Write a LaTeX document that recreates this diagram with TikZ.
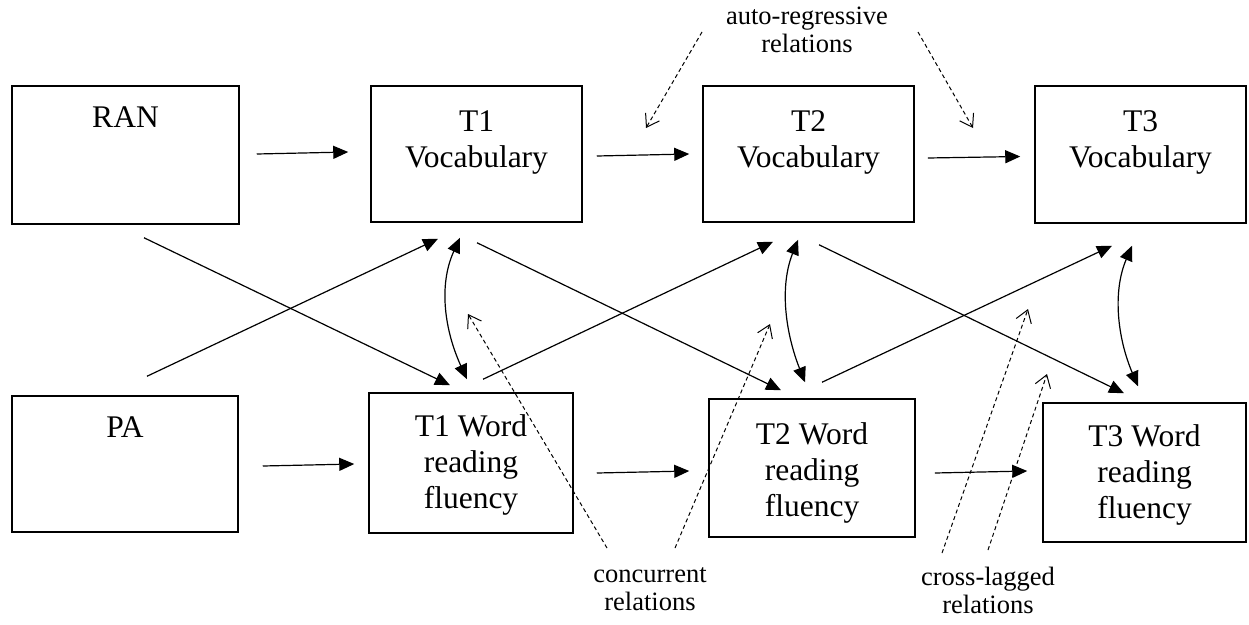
\documentclass[tikz,border=0pt]{standalone}
\usepackage{fontspec}
\setmainfont{Liberation Serif}
\usetikzlibrary{arrows.meta}
\begin{document}
\begin{tikzpicture}[x=1pt,y=-1pt,
  box/.style={draw, line width=1.5pt, inner sep=0pt},
  boxtext/.style={font=\fontsize{31.5}{36}\selectfont, align=center, inner sep=0pt},
  note/.style={font=\fontsize{26.5}{28}\selectfont, align=center, inner sep=0pt},
  conn/.style={line width=1.2pt, -{Triangle[length=15pt,width=13pt]}},
  dbl/.style={line width=1.2pt, {Triangle[length=15pt,width=13pt]}-{Triangle[length=15pt,width=13pt]}},
  dashconn/.style={line width=1pt, dash pattern=on 4pt off 3pt, -{Straight Barb[length=12pt,width=16pt,line width=1pt]}}
]
\useasboundingbox (0,0) rectangle (1249,624);

% boxes
\node[box, minimum width=227pt, minimum height=138pt, label={[boxtext,yshift=38pt]center:RAN}] (ran) at (125.5,155) {};
\node[box, minimum width=211pt, minimum height=136pt, label={[boxtext,yshift=12pt]center:{T1\\Vocabulary}}] (t1v) at (476.5,154) {};
\node[box, minimum width=211pt, minimum height=136pt, label={[boxtext,yshift=12pt]center:{T2\\Vocabulary}}] (t2v) at (808.5,154) {};
\node[box, minimum width=211pt, minimum height=137pt, label={[boxtext,yshift=12pt]center:{T3\\Vocabulary}}] (t3v) at (1140.5,154.5) {};
\node[box, minimum width=226pt, minimum height=136pt, label={[boxtext,yshift=37pt]center:PA}] (pa) at (125,464) {};
\node[box, minimum width=204pt, minimum height=140pt, label={[boxtext,yshift=-2pt]center:{T1 Word\\reading\\fluency}}] (t1w) at (471,463) {};
\node[box, minimum width=206pt, minimum height=138pt, label={[boxtext,yshift=-5pt]center:{T2 Word\\reading\\fluency}}] (t2w) at (812,468) {};
\node[box, minimum width=203pt, minimum height=139pt, label={[boxtext,yshift=-2.5pt]center:{T3 Word\\reading\\fluency}}] (t3w) at (1144.5,472.5) {};

% labels
\node[note] (autolab) at (807,30) {auto-regressive\\relations};
\node[note] (conclab) at (650,589) {concurrent\\relations};
\node[note] (crosslab) at (988,590) {cross-lagged\\relations};

% free ends of dashed arrows
\coordinate (arL) at (646,128);
\coordinate (arR) at (973,128);
\coordinate (cL) at (468,314);
\coordinate (cR) at (770,324);
\coordinate (xL) at (1028,309);
\coordinate (xR) at (1047,374);

% horizontal arrows
\draw[conn] ([shift={(17,-1)}]ran.east) -- ([shift={(-22,-2)}]t1v.west);
\draw[conn] ([shift={(14,2)}]t1v.east) -- ([shift={(-13,0)}]t2v.west);
\draw[conn] ([shift={(13,4)}]t2v.east) -- ([shift={(-14,2)}]t3v.west);
\draw[conn] ([shift={(24,2)}]pa.east) -- ([shift={(-14,1)}]t1w.west);
\draw[conn] ([shift={(23,10)}]t1w.east) -- ([shift={(-19,3)}]t2w.west);
\draw[conn] ([shift={(19,5)}]t2w.east) -- ([shift={(-15,-1.5)}]t3w.west);

% cross arrows
\draw[conn] ([shift={(18.5,13)}]ran.south) -- ([shift={(-21,-7)}]t1w.north);
\draw[conn] ([shift={(22,-19)}]pa.north) -- ([shift={(-38.5,16)}]t1v.south);
\draw[conn] ([shift={(0.5,20)}]t1v.south) -- ([shift={(-31,-8)}]t2w.north);
\draw[conn] ([shift={(12,-13)}]t1w.north) -- ([shift={(-35.5,19)}]t2v.south);
\draw[conn] ([shift={(10.5,22)}]t2v.south) -- ([shift={(-20.5,-9)}]t3w.north);
\draw[conn] ([shift={(10,-16)}]t2w.north) -- ([shift={(-28.5,22)}]t3v.south);

% concurrent curved double arrows
\draw[dbl] ([shift={(-16.5,15)}]t1v.south) .. controls +(-22,48) and +(-22,-48) .. ([shift={(-4,-13)}]t1w.north);
\draw[dbl] ([shift={(-10.5,17)}]t2v.south) .. controls +(-19,48) and +(-19,-48) .. ([shift={(-7,-16)}]t2w.north);
\draw[dbl] ([shift={(-8.5,22)}]t3v.south) .. controls +(-20,47) and +(-20,-47) .. ([shift={(-6.5,-16)}]t3w.north);

% dashed pointers
\draw[dashconn] ([shift={(-105,2)}]autolab.center) -- (arL);
\draw[dashconn] ([shift={(111,2)}]autolab.center) -- (arR);
\draw[dashconn] ([shift={(-43,-41)}]conclab.center) -- (cL);
\draw[dashconn] ([shift={(25,-41)}]conclab.center) -- (cR);
\draw[dashconn] ([shift={(-46,-37)}]crosslab.center) -- (xL);
\draw[dashconn] ([shift={(0,-40)}]crosslab.center) -- (xR);
\end{tikzpicture}
\end{document}
